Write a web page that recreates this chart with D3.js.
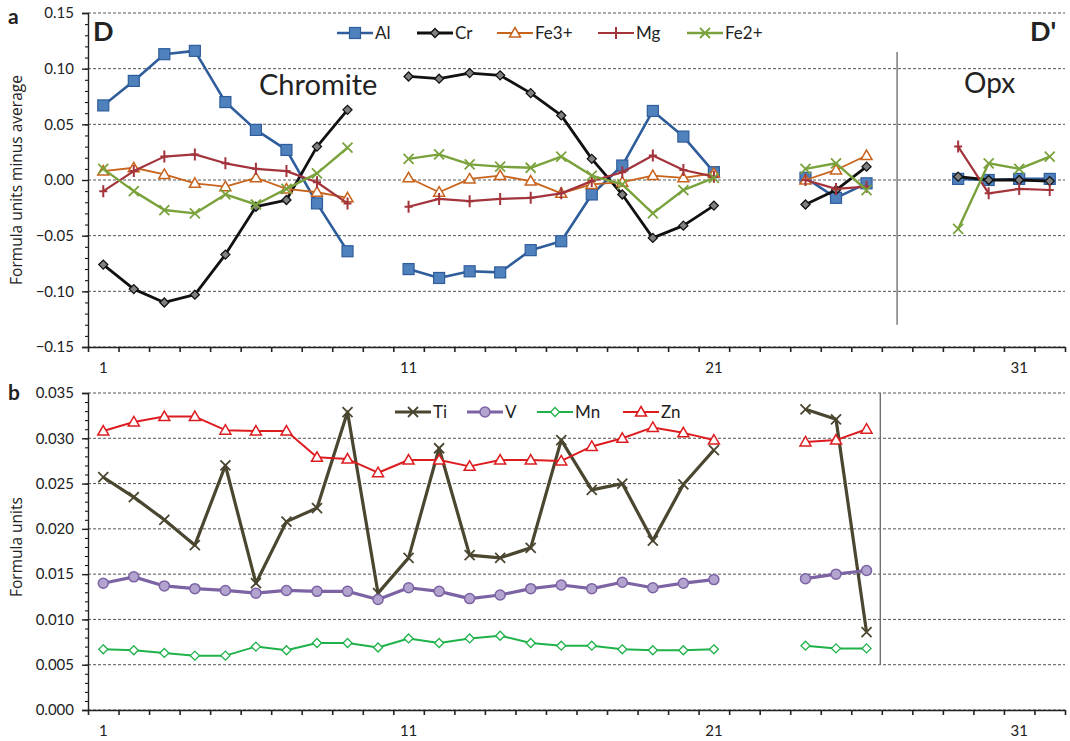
<!DOCTYPE html>
<html>
<head>
<meta charset="utf-8">
<script src="https://cdn.jsdelivr.net/npm/d3@7"></script>
<style>
  body { margin: 0; background: #fff; }
  text { font-family: Lato, "Open Sans", sans-serif; fill: #222; }
</style>
</head>
<body>
<svg id="chart" width="1070" height="741"></svg>
<script>
// sample positions along the traverse D - D'
const topPos = [1, 2, 3, 4, 5, 6, 7, 8, 9, 11, 12, 13, 14, 15, 16, 17, 18, 19, 20, 21, 24, 25, 26, 29, 30, 31, 32]
const botPos = [1, 2, 3, 4, 5, 6, 7, 8, 9, 10, 11, 12, 13, 14, 15, 16, 17, 18, 19, 20, 21, 24, 25, 26]

// panel a: formula units minus average
const alVals = [0.067, 0.089, 0.113, 0.116, 0.070, 0.045, 0.027, -0.021, -0.064,
  -0.080, -0.088, -0.082, -0.083, -0.063, -0.055, -0.013, 0.013, 0.062, 0.039, 0.007,
  0.002, -0.016, -0.003, 0.001, 0.000, 0.001, 0.001]
const crVals = [-0.076, -0.098, -0.110, -0.103, -0.067, -0.024, -0.018, 0.030, 0.063,
  0.093, 0.091, 0.096, 0.094, 0.078, 0.058, 0.019, -0.013, -0.052, -0.041, -0.023,
  -0.022, -0.009, 0.012, 0.003, 0.000, 0.000, -0.001]
const fe3Vals = [0.008, 0.011, 0.005, -0.003, -0.006, 0.002, -0.008, -0.011, -0.016,
  0.002, -0.011, 0.001, 0.004, -0.001, -0.012, -0.004, -0.002, 0.004, 0.002, 0.006,
  0.000, 0.009, 0.022, null, null, null, null]
const mgVals = [-0.010, 0.008, 0.021, 0.023, 0.015, 0.010, 0.008, -0.002, -0.021,
  -0.024, -0.017, -0.019, -0.017, -0.016, -0.012, -0.001, 0.007, 0.022, 0.009, 0.003,
  0.000, -0.008, -0.006, 0.030, -0.012, -0.008, -0.009]
const fe2Vals = [0.010, -0.010, -0.027, -0.030, -0.013, -0.022, -0.008, 0.006, 0.029,
  0.019, 0.023, 0.014, 0.012, 0.011, 0.021, 0.004, -0.004, -0.030, -0.009, 0.002,
  0.010, 0.015, -0.009, -0.044, 0.015, 0.010, 0.021]

// panel b: formula units
const tiVals = [0.0257, 0.0235, 0.0210, 0.0182, 0.0270, 0.0140, 0.0208, 0.0223, 0.0329, 0.0129,
  0.0168, 0.0289, 0.0171, 0.0168, 0.0179, 0.0298, 0.0243, 0.0250, 0.0187, 0.0249, 0.0287,
  0.0332, 0.0321, 0.0086]
const vVals = [0.0140, 0.0147, 0.0137, 0.0134, 0.0132, 0.0129, 0.0132, 0.0131, 0.0131, 0.0122,
  0.0135, 0.0131, 0.0123, 0.0127, 0.0134, 0.0138, 0.0134, 0.0141, 0.0135, 0.0140, 0.0144,
  0.0145, 0.0150, 0.0154]
const mnVals = [0.0067, 0.0066, 0.0063, 0.0060, 0.0060, 0.0070, 0.0066, 0.0074, 0.0074, 0.0069,
  0.0079, 0.0074, 0.0079, 0.0082, 0.0074, 0.0071, 0.0071, 0.0067, 0.0066, 0.0066, 0.0067,
  0.0071, 0.0068, 0.0068]
const znVals = [0.0308, 0.0318, 0.0324, 0.0324, 0.0309, 0.0308, 0.0308, 0.0279, 0.0277, 0.0262,
  0.0276, 0.0276, 0.0269, 0.0276, 0.0276, 0.0275, 0.0291, 0.0300, 0.0312, 0.0306, 0.0298,
  0.0296, 0.0298, 0.0310]

const xLabels = [1, 11, 21, 31]

const topSeries = [
  {name: 'Al', values: alVals, color: '#2f5d9b', marker: 'square', fill: '#4f81bd', width: 2.6},
  {name: 'Cr', values: crVals, color: '#111', marker: 'diamond', fill: '#808080', width: 2.8},
  {name: 'Fe3+', values: fe3Vals, color: '#c8631c', marker: 'triangle', fill: '#fff', width: 1.8},
  {name: 'Mg', values: mgVals, color: '#a3343c', marker: 'plus', fill: 'none', width: 2.2},
  {name: 'Fe2+', values: fe2Vals, color: '#7aa23c', marker: 'cross', fill: 'none', width: 2.4}
]
const botSeries = [
  {name: 'Ti', values: tiVals, color: '#4a4630', marker: 'cross', fill: 'none', width: 3.2},
  {name: 'V', values: vVals, color: '#7c63a3', marker: 'circle', fill: '#b3a3cf', width: 3.2},
  {name: 'Mn', values: mnVals, color: '#1fb24a', marker: 'diamond', fill: '#fff', width: 2},
  {name: 'Zn', values: znVals, color: '#dd1c20', marker: 'triangle', fill: '#fff', width: 2}
]

const svg = d3.select('#chart')
const x = d3.scaleLinear().domain([0.5, 32.5]).range([88, 1065])

function drawMarker(g, type, cx, cy, s) {
  let c = s.color
  if (type === 'square') {
    g.append('rect').attr('x', cx - 5.5).attr('y', cy - 5.5).attr('width', 11).attr('height', 11)
      .attr('fill', s.fill).attr('stroke', c).attr('stroke-width', 1.2)
  } else if (type === 'diamond') {
    g.append('path').attr('d', `M${cx},${cy - 4.5}L${cx + 4.5},${cy}L${cx},${cy + 4.5}L${cx - 4.5},${cy}Z`)
      .attr('fill', s.fill).attr('stroke', c).attr('stroke-width', 1.3)
  } else if (type === 'triangle') {
    g.append('path').attr('d', `M${cx},${cy - 5.5}L${cx + 5.5},${cy + 4}L${cx - 5.5},${cy + 4}Z`)
      .attr('fill', s.fill).attr('stroke', c).attr('stroke-width', 1.5)
  } else if (type === 'plus') {
    g.append('path').attr('d', `M${cx},${cy - 6}V${cy + 6}M${cx - 4},${cy}H${cx + 4}`)
      .attr('stroke', c).attr('stroke-width', 2)
  } else if (type === 'cross') {
    g.append('path').attr('d', `M${cx - 5},${cy - 5}L${cx + 5},${cy + 5}M${cx - 5},${cy + 5}L${cx + 5},${cy - 5}`)
      .attr('stroke', c).attr('stroke-width', 1.8)
  } else if (type === 'circle') {
    g.append('circle').attr('cx', cx).attr('cy', cy).attr('r', 5)
      .attr('fill', s.fill).attr('stroke', c).attr('stroke-width', 1.5)
  }
}

function segments(pos, vals) {
  let segs = [], cur = []
  pos.forEach((p, i) => {
    let v = vals[i]
    if (v == null) return
    if (cur.length && p - cur[cur.length - 1][0] > 1) { segs.push(cur); cur = [] }
    cur.push([p, v])
  })
  if (cur.length) segs.push(cur)
  return segs
}

function drawPanel(opts) {
  let y = d3.scaleLinear().domain(opts.domain).range(opts.range)
  let g = svg.append('g')

  // dashed gridlines
  g.selectAll('.grid').data(opts.grid).enter().append('line')
    .attr('x1', 88).attr('x2', 1065)
    .attr('y1', d => y(d)).attr('y2', d => y(d))
    .attr('stroke', '#555').attr('stroke-width', 1).attr('stroke-dasharray', '3,2')

  // y axis with minor ticks
  g.append('g').attr('transform', 'translate(88,0)')
    .call(d3.axisLeft(y).tickValues(d3.range(opts.domain[0], opts.domain[1] + opts.minor / 2, opts.minor)).tickSize(3).tickFormat(''))
    .call(a => a.select('.domain').remove())
  g.append('g').attr('transform', 'translate(88,0)')
    .call(d3.axisLeft(y).tickValues(opts.grid).tickSize(6).tickPadding(8).tickFormat(d3.format(opts.fmt)))
    .call(a => a.selectAll('text').attr('font-size', 15).attr('fill', '#222').style('font-family', 'Lato, sans-serif'))
    .call(a => a.selectAll('line, path').attr('stroke', '#222').attr('stroke-width', 1.4))

  // x axis at the bottom
  let xa = g.append('g').attr('transform', `translate(0,${opts.range[0]})`)
  xa.call(d3.axisBottom(x).tickValues(d3.range(0.5, 33, 1)).tickSize(5).tickFormat('').tickSizeOuter(0))
    .call(a => a.selectAll('line, path').attr('stroke', '#222').attr('stroke-width', 1.6))
  xa.selectAll('.xl').data(xLabels).enter().append('text')
    .attr('x', d => x(d)).attr('y', 26).attr('text-anchor', 'middle').attr('font-size', 15).text(d => d)

  // separator line
  g.append('line')
    .attr('x1', x(opts.sepX)).attr('x2', x(opts.sepX))
    .attr('y1', y(opts.sepY[0])).attr('y2', y(opts.sepY[1]))
    .attr('stroke', '#666').attr('stroke-width', 1.3)

  let line = d3.line().x(d => x(d[0])).y(d => y(d[1]))
  opts.series.forEach(s => {
    let sg = g.append('g')
    segments(opts.pos, s.values).forEach(seg => {
      sg.append('path').attr('d', line(seg)).attr('fill', 'none')
        .attr('stroke', s.color).attr('stroke-width', s.width).attr('stroke-linejoin', 'round')
      seg.forEach(d => drawMarker(sg, s.marker, x(d[0]), y(d[1]), s))
    })
  })

  // legend
  opts.series.forEach((s, i) => {
    let lx = opts.legendX[i], ly = opts.legendY
    let lg = svg.append('g')
    lg.append('line').attr('x1', lx).attr('x2', lx + 36).attr('y1', ly).attr('y2', ly)
      .attr('stroke', s.color).attr('stroke-width', s.width)
    drawMarker(lg, s.marker, lx + 18, ly, s)
    lg.append('text').attr('x', lx + 38).attr('y', ly + 6).attr('font-size', 17).text(s.name)
  })

  // axis title
  svg.append('text')
    .attr('transform', `translate(22,${opts.titleY}) rotate(-90)`)
    .attr('text-anchor', 'middle').attr('font-size', 15.5)
    .style('font-family', '"Open Sans", sans-serif').text(opts.title)
}

drawPanel({
  domain: [-0.15, 0.15], range: [347, 13], minor: 0.01,
  grid: d3.range(-0.15, 0.151, 0.05).map(v => +v.toFixed(2)), fmt: '.2f',
  pos: topPos, series: topSeries, sepX: 27, sepY: [-0.13, 0.115],
  legendX: [337, 417, 497, 598, 687], legendY: 33,
  title: 'Formula units minus average', titleY: 180
})
drawPanel({
  domain: [0, 0.035], range: [710, 393], minor: 0.001,
  grid: d3.range(0, 0.0351, 0.005).map(v => +v.toFixed(3)), fmt: '.3f',
  pos: botPos, series: botSeries, sepX: 26.45, sepY: [0.005, 0.035],
  legendX: [395, 467, 537, 623], legendY: 412,
  title: 'Formula units', titleY: 547
})

// panel letters and annotations
svg.append('text').attr('x', 8).attr('y', 24).attr('font-size', 21).attr('font-weight', 'bold').text('a')
svg.append('text').attr('x', 8).attr('y', 400).attr('font-size', 21).attr('font-weight', 'bold').text('b')
svg.append('text').attr('x', 93).attr('y', 41).attr('font-size', 27).attr('font-weight', 'bold').text('D')
svg.append('text').attr('x', 1030).attr('y', 41).attr('font-size', 27).attr('font-weight', 'bold').text("D'")
svg.append('text').attr('x', 259).attr('y', 95).attr('font-size', 29).text('Chromite')
svg.append('text').attr('x', 964).attr('y', 93).attr('font-size', 28).text('Opx')
</script>
</body>
</html>
